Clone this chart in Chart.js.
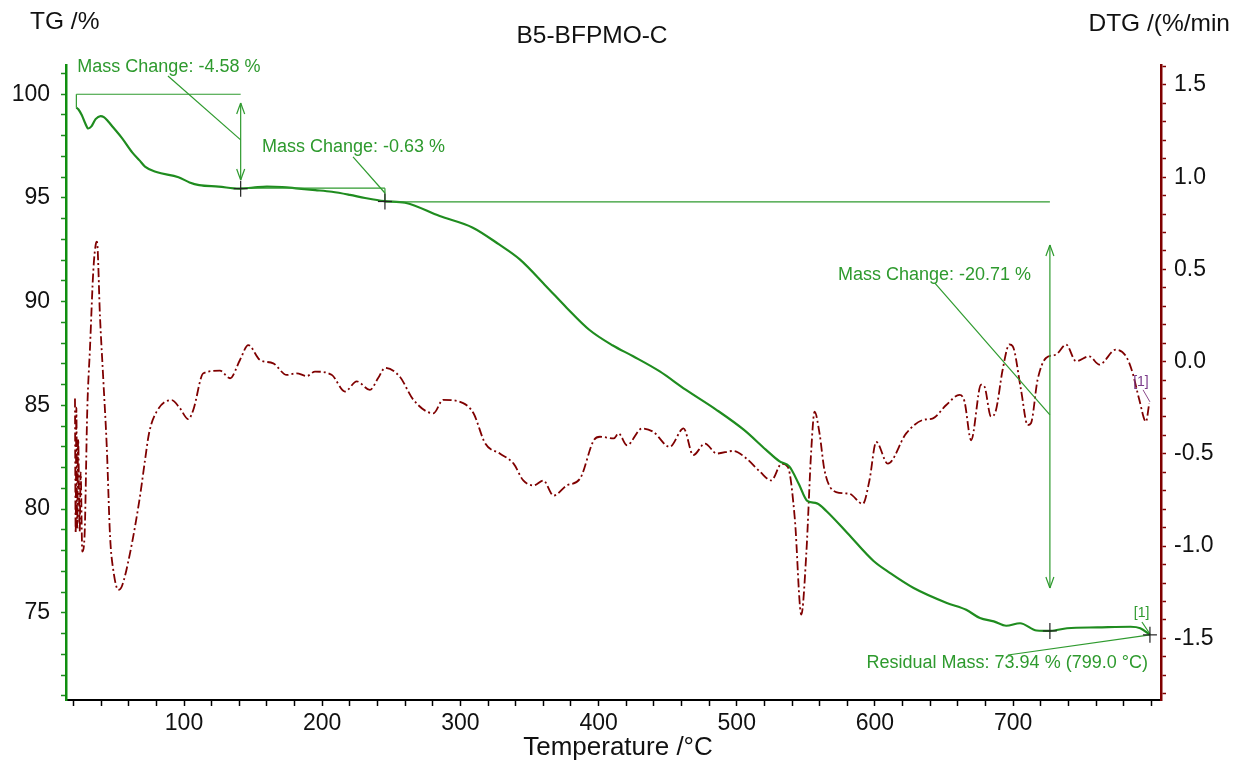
<!DOCTYPE html>
<html><head><meta charset="utf-8">
<script src="https://cdn.jsdelivr.net/npm/chart.js@4.4.1/dist/chart.umd.min.js"></script>
<style>html,body{margin:0;padding:0;background:#fff;overflow:hidden}canvas{display:block}</style>
</head><body>
<div style="width:1235px;height:763px;position:relative"><canvas id="c" width="1235" height="763"></canvas></div>
<script>
// ---- data ----
const tgTemp = [22.1,23.5,26,28.5,30.7,33,36,39.6,42,45,48,55,62.5,68,72,80,96,104,111,125,140,150,160,171,183,195,207,220,231,245,260,285,309,328,343,362,377,393,410,425,444,463,485,505,521,531,538,545,551,558,565,580,599,611,628,652,666,676,686,695,705,717,727,739,761,785,792,799];
const tgValues = [99.35,99.28,99.0,98.6,98.35,98.45,98.8,98.95,98.9,98.7,98.46,97.9,97.2,96.8,96.5,96.25,96.0,95.75,95.62,95.55,95.45,95.5,95.55,95.53,95.45,95.38,95.3,95.15,95.0,94.85,94.77,94.13,93.57,92.76,92.04,90.75,89.7,88.66,87.9,87.37,86.65,85.76,84.8,83.83,82.87,82.3,82.06,81.2,80.4,80.28,79.9,78.85,77.5,76.92,76.2,75.48,75.15,74.75,74.59,74.38,74.5,74.15,74.13,74.26,74.3,74.33,74.26,73.94];

const dtgTemp = [21.1,21.6,22.1,22.7,23.4,24.5,25.2,26.4,28,30,32,34.4,36.3,37,39.2,41.6,44.1,46.5,48.8,52.5,54.9,60.9,68.1,71.8,74.7,80.2,91.1,97.1,103.1,106.7,114,126,133.3,140.5,146.5,155,164.6,174.3,181.5,188.8,194.8,206.8,216.5,225,234.5,240.5,245.5,256,266,280.5,287.5,302,309.5,318,328.5,338.5,345.5,353,360,367.5,377,386.5,396.5,401,411,414.5,420.5,431.5,439.5,451.5,461.5,468.5,477,485.5,497.5,507,517,525,532.5,537,542,546.7,550.3,553.9,556.3,559.9,563.5,571.9,581.5,591.2,596,600.9,609.3,622.6,634.7,642,651.6,661.2,664.8,669.6,676.8,679.2,684,687.6,692.4,697.3,699.7,705.7,710.5,712.9,717.7,723.8,731,738.3,745.5,755.1,762.4,774.4,781.7,786.5,791.3,796.1,798.5];
const dtgValues = [-0.2,-0.93,-0.25,-0.9,-0.42,-0.92,-0.6,-1.03,-0.95,-0.26,0.081,0.497,0.642,0.65,0.244,-0.099,-0.461,-0.949,-1.129,-1.237,-1.22,-1.039,-0.732,-0.533,-0.388,-0.271,-0.208,-0.253,-0.312,-0.262,-0.063,-0.049,-0.09,0.009,0.09,0.009,-0.009,-0.072,-0.063,-0.078,-0.054,-0.071,-0.162,-0.107,-0.153,-0.089,-0.034,-0.08,-0.207,-0.28,-0.207,-0.225,-0.28,-0.444,-0.498,-0.553,-0.644,-0.671,-0.644,-0.726,-0.671,-0.635,-0.426,-0.407,-0.416,-0.389,-0.453,-0.362,-0.38,-0.462,-0.362,-0.507,-0.444,-0.498,-0.484,-0.525,-0.598,-0.644,-0.553,-0.571,-0.85,-1.371,-1.044,-0.48,-0.271,-0.389,-0.589,-0.707,-0.716,-0.771,-0.644,-0.435,-0.553,-0.389,-0.316,-0.307,-0.235,-0.18,-0.216,-0.426,-0.125,-0.134,-0.298,-0.262,-0.044,0.093,0.084,-0.153,-0.344,-0.334,-0.098,0.02,0.038,0.093,0.002,0.029,-0.016,0.065,0.029,-0.062,-0.207,-0.325,-0.225];

const xMajorTicks = [100,200,300,400,500,600,700];
const tgMajorTicks = [75,80,85,90,95,100];
const dtgMajorTicks = [-1.5,-1.0,-0.5,0.0,0.5,1.0,1.5];

const chartTitle = 'B5-BFPMO-C';
const leftAxisTitle = 'TG /%';
const rightAxisTitle = 'DTG /(%/min';
const xAxisTitle = 'Temperature /°C';
const massChangeLabels = ['Mass Change: -4.58 %','Mass Change: -0.63 %','Mass Change: -20.71 %'];
const residualLabel = 'Residual Mass: 73.94 % (799.0 °C)';

// ---- styling ----
const FONT = '"Liberation Sans", Arial, sans-serif';
const GREEN = '#1f8c1f';
const AGREEN = '#2e9a2e';
const RED = '#7f0000';
const near = (a,b)=>Math.abs(a-b)<1e-6;

const annPlugin = {
  id:'ann',
  afterDraw(chart){
    const {ctx, scales:{x,y,y2}} = chart;
    const X=v=>x.getPixelForValue(v), Y=v=>y.getPixelForValue(v), Y2=v=>y2.getPixelForValue(v);
    const line=(x1,y1,x2,y2_,c,w)=>{ctx.beginPath();ctx.strokeStyle=c||AGREEN;ctx.lineWidth=w||1.2;ctx.moveTo(x1,y1);ctx.lineTo(x2,y2_);ctx.stroke();};
    const arrow=(xx,yt,yb)=>{
      line(xx,yt,xx,yb);
      line(xx,yt,xx-4,yt+11);line(xx,yt,xx+4,yt+11);
      line(xx,yb,xx-4,yb-11);line(xx,yb,xx+4,yb-11);
    };
    const cross=(xx,yy)=>{line(xx-7,yy,xx+7,yy,'#222',1.2);line(xx,yy-8,xx,yy+8,'#222',1.2);};
    ctx.save();
    // titles
    ctx.fillStyle='#111';ctx.textBaseline='middle';
    ctx.font='24.5px '+FONT;
    ctx.textAlign='left';ctx.fillText(leftAxisTitle,30,22);
    ctx.textAlign='center';ctx.fillText(chartTitle,592,36);
    ctx.textAlign='right';ctx.fillText(rightAxisTitle,1230,24);
    ctx.font='26px '+FONT;
    ctx.textAlign='center';ctx.fillText(xAxisTitle,618,748);

    // annotation 1
    line(X(22.1),Y(100),X(141),Y(100));
    line(X(22.1),Y(100),X(22.1),Y(99.35));
    arrow(X(141),Y(99.58),Y(95.87));
    line(X(88.4),Y(100.88),X(141),Y(97.8));
    // annotation 2
    line(X(141),Y(95.47),X(245.4),Y(95.47));
    line(X(245.4),Y(95.47),X(245.4),Y(94.85));
    line(X(222.3),Y(96.98),X(245.4),Y(95.24));
    // annotation 3
    line(X(245.4),Y(94.81),X(726.6),Y(94.81));
    arrow(X(726.6),Y(92.73),Y(76.2));
    line(X(643.4),Y(90.9),X(726.6),Y(84.54));
    // residual
    line(X(696.2),Y(72.97),X(799),Y(73.94));
    line(X(793.2),Y(74.56),X(799),Y(73.98));
    // DTG [1] leader
    line(X(794),Y2(-0.153),X(799),Y2(-0.218),'#8a4a8a',1);
    // crosses
    cross(X(141),Y(95.45));
    cross(X(245.4),Y(94.83));
    cross(X(726.6),Y(74.13));
    cross(X(799),Y(73.94));
    // labels
    ctx.fillStyle=AGREEN;ctx.font='18px '+FONT;ctx.textAlign='left';
    ctx.fillText(massChangeLabels[0],X(22.8),Y(101.31));
    ctx.fillText(massChangeLabels[1],X(156.4),Y(97.46));
    ctx.fillText(massChangeLabels[2],X(573.2),Y(91.29));
    ctx.textAlign='right';
    ctx.fillText(residualLabel,X(797.5),Y(72.58));
    ctx.textAlign='center';ctx.font='14px '+FONT;
    ctx.fillText('[1]',X(793),Y(74.99));
    ctx.fillStyle='#7a3a8a';
    ctx.fillText('[1]',X(792.5),Y2(-0.11));
    ctx.restore();
  }
};

const tickFont = {family:FONT, size:23};
new Chart(document.getElementById('c'), {
  type:'line',
  data:{datasets:[
    {label:'TG', data:tgTemp.map((t,i)=>({x:t,y:tgValues[i]})), yAxisID:'y', borderColor:GREEN, borderWidth:2.2, pointRadius:0, cubicInterpolationMode:'monotone', fill:false},
    {label:'DTG', data:dtgTemp.map((t,i)=>({x:t,y:dtgValues[i]})), yAxisID:'y2', borderColor:RED, borderWidth:1.8, borderDash:[9,3,2,3], pointRadius:0, cubicInterpolationMode:'monotone', fill:false}
  ]},
  options:{
    responsive:false, animation:false, devicePixelRatio:1,
    layout:{padding:{top:65,left:0,right:0,bottom:0}},
    plugins:{legend:{display:false}, title:{display:false}, tooltip:{enabled:false}},
    scales:{
      x:{type:'linear', min:14.6, max:807,
        afterFit(s){s.height=63;},
        afterBuildTicks(s){const t=[];for(let v=20;v<=800;v+=20)t.push({value:v});s.ticks=t;},
        ticks:{autoSkip:false, maxRotation:0, padding:4, font:tickFont, color:'#111', callback:v=>xMajorTicks.includes(v)?String(v):''},
        grid:{drawOnChartArea:false, tickLength:6, tickColor:'#000', tickWidth:1.5},
        border:{color:'#000', width:2}},
      y:{type:'linear', position:'left', min:70.8, max:101.41,
        afterFit(s){s.width=66;},
        afterBuildTicks(s){const t=[];for(let v=71;v<=101;v++)t.push({value:v});s.ticks=t;},
        ticks:{autoSkip:false, padding:11, font:tickFont, color:'#111', callback:v=>tgMajorTicks.includes(v)?String(v):''},
        grid:{drawOnChartArea:false, tickLength:5, tickColor:GREEN, tickWidth:1.5},
        border:{color:'#0f8f0f', width:2.5}},
      y2:{type:'linear', position:'right', min:-1.834, max:1.608,
        afterFit(s){s.width=74;},
        afterBuildTicks(s){const t=[];for(let k=-18;k<=16;k++)t.push({value:k/10});s.ticks=t;},
        ticks:{autoSkip:false, padding:8, font:tickFont, color:'#111', callback:v=>{const m=dtgMajorTicks.find(d=>near(d,v));return m!==undefined?m.toFixed(1):'';}},
        grid:{drawOnChartArea:false, tickLength:5, tickColor:RED, tickWidth:1.5},
        border:{color:RED, width:2.5}}
    }
  },
  plugins:[annPlugin]
});
</script>
</body></html>
